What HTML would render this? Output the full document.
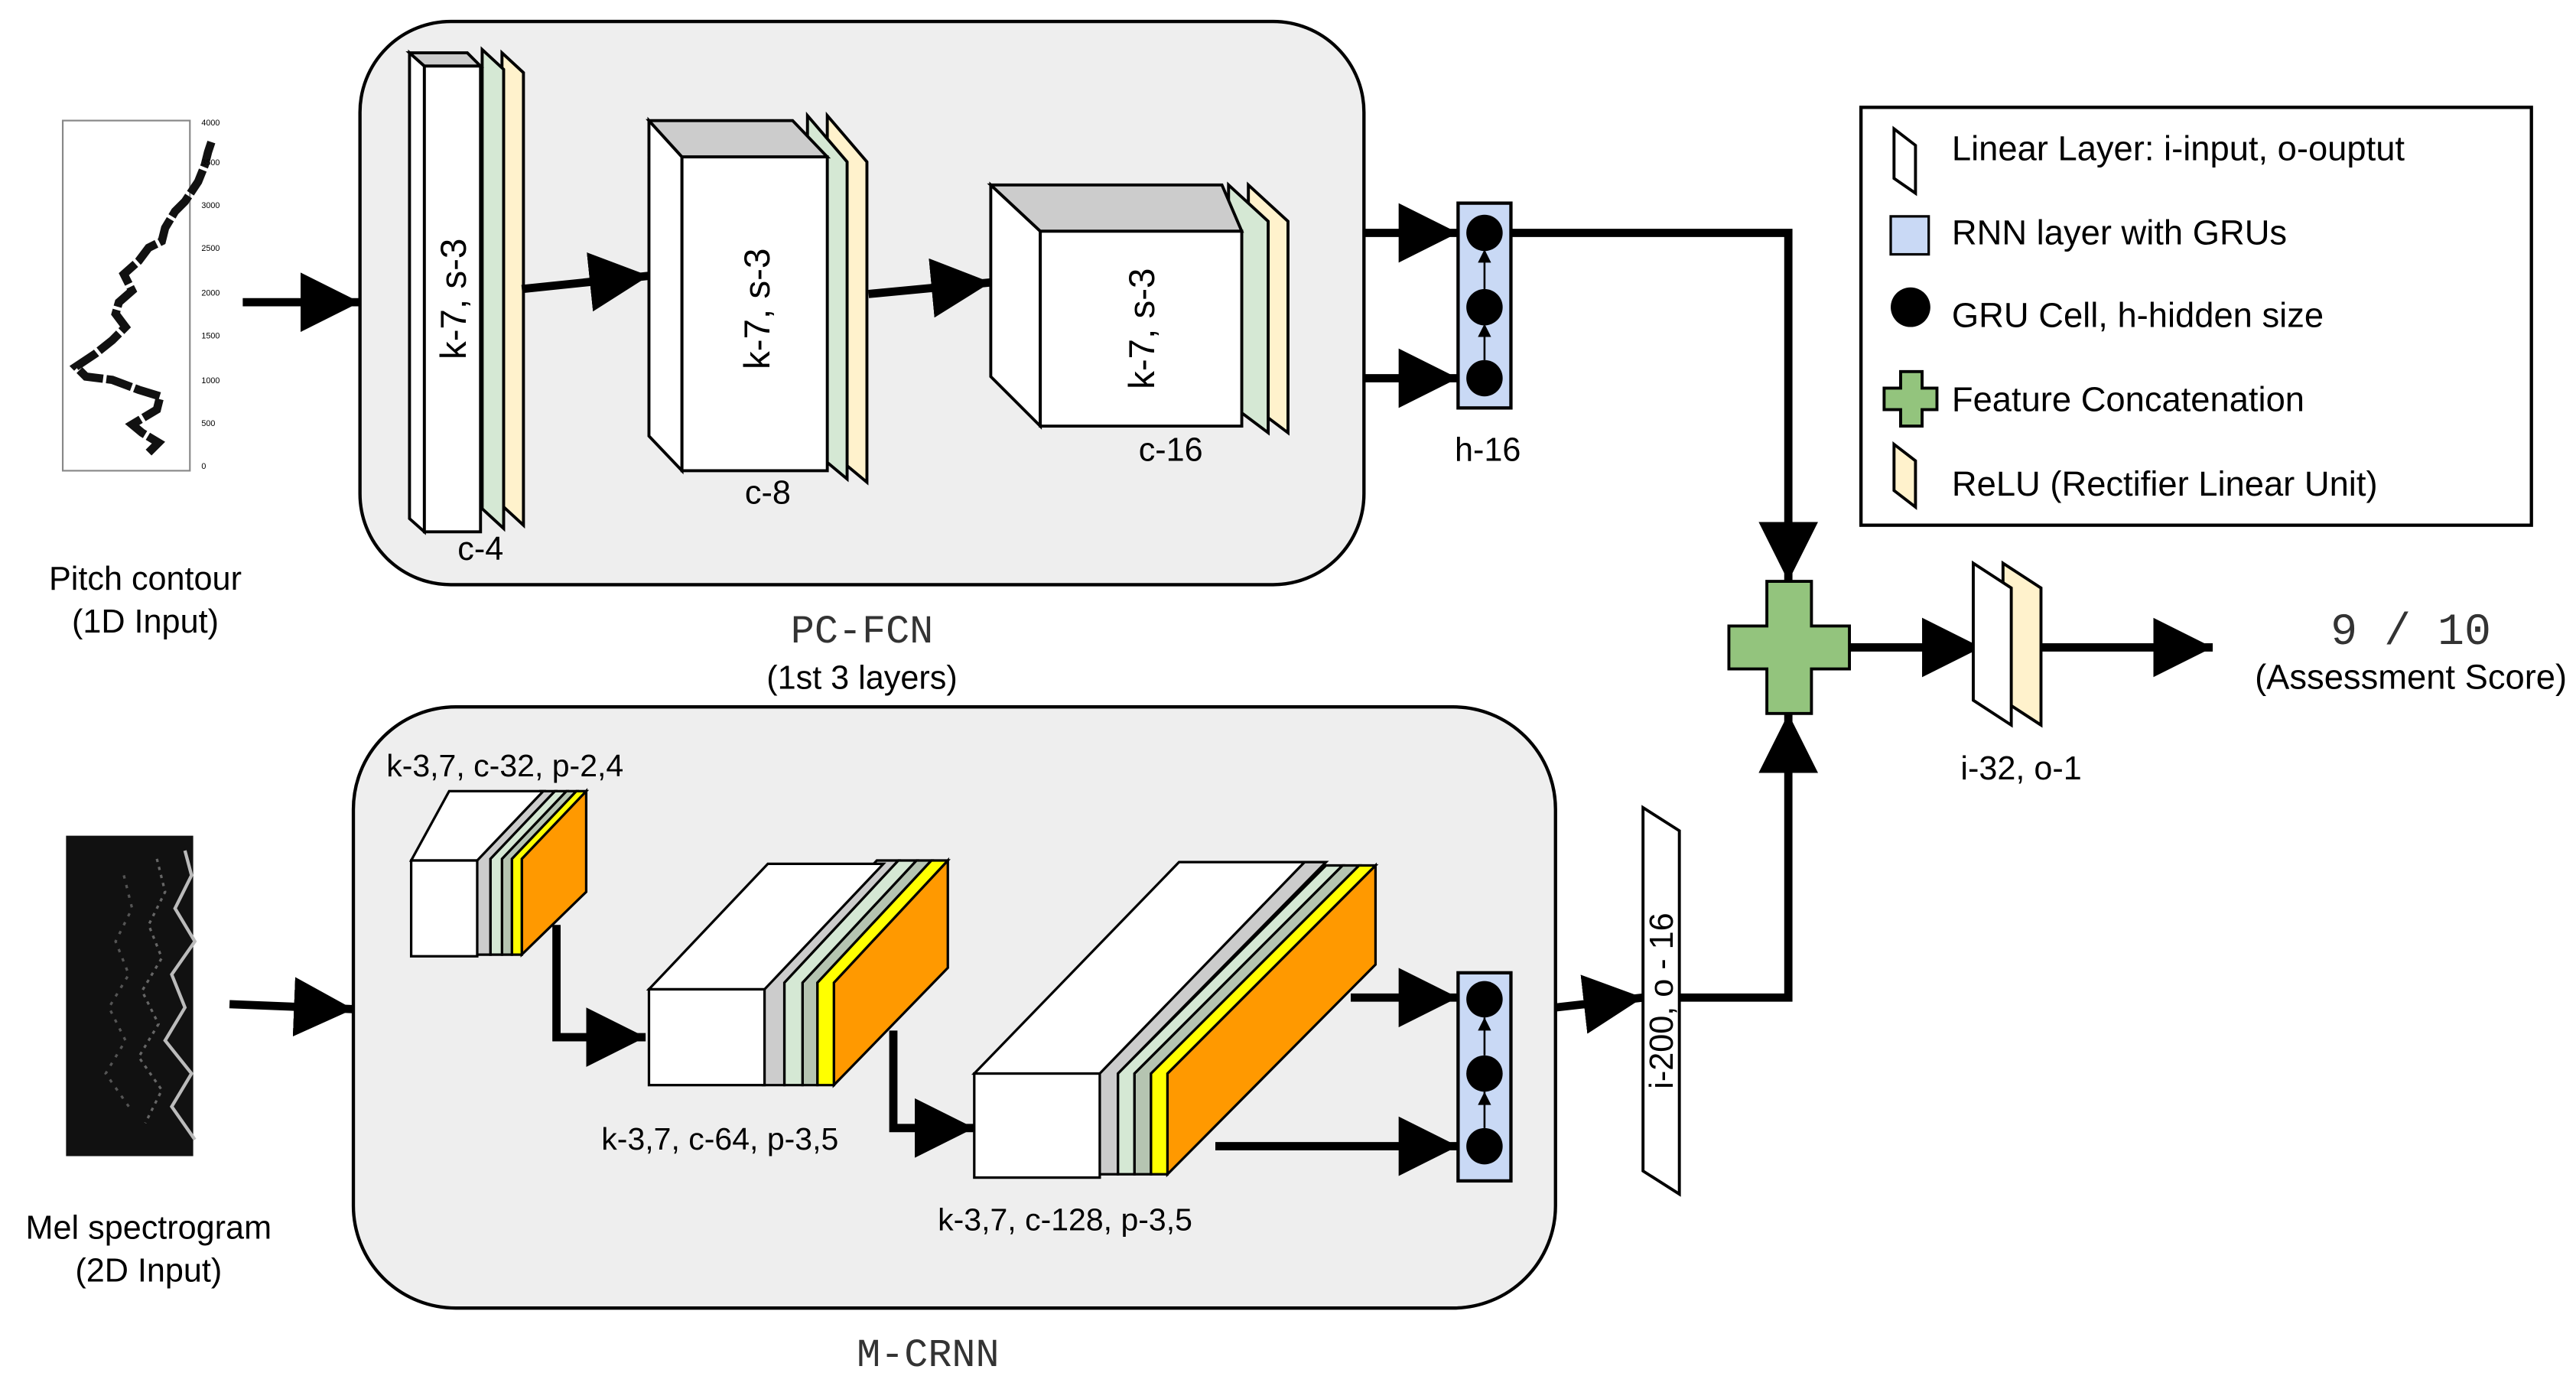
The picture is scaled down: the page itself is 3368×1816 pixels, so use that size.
<!DOCTYPE html>
<html><head><meta charset="utf-8"><style>
html,body{margin:0;padding:0;background:#fff;}
svg{display:block;}
text{font-family:"Liberation Sans",Arial,sans-serif;fill:#000;}
.mono{font-family:"Liberation Mono","DejaVu Sans Mono",monospace;fill:#333;}
</style></head><body>
<svg width="3368" height="1816" viewBox="0 0 1560 841" preserveAspectRatio="none" xmlns="http://www.w3.org/2000/svg">
<defs>
<marker id="ah" markerUnits="userSpaceOnUse" markerWidth="38" markerHeight="36" refX="36" refY="18" orient="auto">
<path d="M0,0 L36,18 L0,36 z" fill="#000"/></marker>
</defs>

<rect x="218" y="13" width="608" height="341" rx="55" fill="#eeeeee" stroke="#000" stroke-width="2"/>
<rect x="214" y="428" width="728" height="364" rx="62" fill="#eeeeee" stroke="#000" stroke-width="2"/>

<!-- pitch contour -->
<rect x="38" y="73" width="77" height="212" fill="#fff" stroke="#888" stroke-width="1"/>
<polyline points="90,274 96,268 86,262 80,257 95,248 97,240 84,236 68,230 52,228 46,222 58,214 68,206 76,198 70,190 72,183 80,176 75,166 84,158 90,150 98,146 100,138 106,128 112,122 120,110 124,100 126,92 128,86" fill="none" stroke="#111" stroke-width="5" stroke-dasharray="16,2"/>
<g font-size="5" fill="#666">
<text x="122" y="284">0</text><text x="122" y="258">500</text><text x="122" y="232">1000</text><text x="122" y="205">1500</text><text x="122" y="179">2000</text><text x="122" y="152">2500</text><text x="122" y="126">3000</text><text x="122" y="100">3500</text><text x="122" y="76">4000</text>
</g>
<text x="88" y="357" font-size="20" text-anchor="middle">Pitch contour</text>
<text x="88" y="383" font-size="20" text-anchor="middle">(1D Input)</text>

<!-- mel spectrogram -->
<rect x="40" y="506" width="77" height="194" fill="#111"/>
<polyline points="112,515 116,530 106,550 118,570 104,590 112,610 100,630 116,650 104,670 118,690" fill="none" stroke="#bbb" stroke-width="2"/>
<polyline points="95,520 100,540 90,560 98,580 86,600 96,620 84,640 98,660 88,680" fill="none" stroke="#666" stroke-width="1.5" stroke-dasharray="2,3"/>
<polyline points="75,530 80,550 70,570 78,590 66,610 76,630 64,650 78,670" fill="none" stroke="#555" stroke-width="1.5" stroke-dasharray="2,4"/>
<text x="90" y="750" font-size="20" text-anchor="middle">Mel spectrogram</text>
<text x="90" y="776" font-size="20" text-anchor="middle">(2D Input)</text>

<line x1="147" y1="183" x2="218" y2="183" stroke="#000" stroke-width="5" marker-end="url(#ah)"/>
<line x1="139" y1="608" x2="214" y2="611" stroke="#000" stroke-width="5" marker-end="url(#ah)"/>

<!-- PC-FCN layer 1 -->
<g stroke="#000" stroke-width="1.8">
<polygon points="304,32 317,44 317,318 304,306" fill="#fff2cc"/>
<polygon points="292,30 305,42 305,320 292,308" fill="#d5e8d4"/>
<polygon points="248,32 257,40 257,322 248,314" fill="#fff"/>
<polygon points="248,32 283,32 291,40 257,40" fill="#cccccc"/>
<rect x="257" y="40" width="34" height="282" fill="#fff"/>
</g>
<text transform="translate(282,181) rotate(-90)" font-size="22" text-anchor="middle">k-7, s-3</text>
<text x="291" y="339" font-size="20" text-anchor="middle">c-4</text>

<!-- layer 2 -->
<g stroke="#000" stroke-width="1.8">
<polygon points="501,70 525,98 525,292 501,272" fill="#fff2cc"/>
<polygon points="489,70 513,98 513,290 489,270" fill="#d5e8d4"/>
<polygon points="393,73 413,95 413,285 393,264" fill="#fff"/>
<polygon points="393,73 480,73 501,95 413,95" fill="#cccccc"/>
<rect x="413" y="95" width="88" height="190" fill="#fff"/>
</g>
<text transform="translate(466,187) rotate(-90)" font-size="22" text-anchor="middle">k-7, s-3</text>
<text x="465" y="305" font-size="20" text-anchor="middle">c-8</text>

<!-- layer 3 -->
<g stroke="#000" stroke-width="1.8">
<polygon points="756,112 780,134 780,262 756,244" fill="#fff2cc"/>
<polygon points="744,112 768,134 768,262 744,244" fill="#d5e8d4"/>
<polygon points="600,112 630,140 630,258 600,228" fill="#fff"/>
<polygon points="600,112 740,112 752,140 630,140" fill="#cccccc"/>
<rect x="630" y="140" width="122" height="118" fill="#fff"/>
</g>
<text transform="translate(699,199) rotate(-90)" font-size="22" text-anchor="middle">k-7, s-3</text>
<text x="709" y="279" font-size="20" text-anchor="middle">c-16</text>

<line x1="316" y1="175" x2="393" y2="167" stroke="#000" stroke-width="5" marker-end="url(#ah)"/>
<line x1="526" y1="178" x2="600" y2="171" stroke="#000" stroke-width="5" marker-end="url(#ah)"/>

<!-- RNN 1 -->
<line x1="826" y1="141" x2="883" y2="141" stroke="#000" stroke-width="5" marker-end="url(#ah)"/>
<line x1="826" y1="229" x2="883" y2="229" stroke="#000" stroke-width="5" marker-end="url(#ah)"/>
<rect x="883" y="123" width="32" height="124" fill="#c9d9f5" stroke="#000" stroke-width="2"/>
<line x1="899" y1="218" x2="899" y2="197" stroke="#000" stroke-width="1.2"/>
<line x1="899" y1="175" x2="899" y2="152" stroke="#000" stroke-width="1.2"/>
<path d="M895,204 L899,196 L903,204 z M895,159 L899,151 L903,159 z" fill="#000"/>
<circle cx="899" cy="141" r="11" fill="#000"/>
<circle cx="899" cy="186" r="11" fill="#000"/>
<circle cx="899" cy="229" r="11" fill="#000"/>
<text x="901" y="279" font-size="20" text-anchor="middle">h-16</text>

<polyline points="915,141 1083,141 1083,352" fill="none" stroke="#000" stroke-width="5" marker-end="url(#ah)"/>

<text x="522" y="389" font-size="24" class="mono" text-anchor="middle">PC-FCN</text>
<text x="522" y="417" font-size="20" text-anchor="middle">(1st 3 layers)</text>

<!-- M-CRNN block 1 -->
<g stroke="#000" stroke-width="1.5">
<polygon points="316,578 316,520 355,479 355,540" fill="#ff9900"/>
<polygon points="310,578 310,520 349,479 355,479 316,520 316,578" fill="#ffff00"/>
<polygon points="304,578 304,520 343,479 349,479 310,520 310,578" fill="#b5c4b1"/>
<polygon points="297,578 297,520 336,479 343,479 304,520 304,578" fill="#d5e8d4"/>
<polygon points="288,578 288,520 327,479 336,479 297,520 297,578" fill="#cccccc"/>
<polygon points="249,521 289,521 329,479 272,479" fill="#fff"/>
<rect x="249" y="521" width="40" height="58" fill="#fff"/>
</g>
<text x="234" y="470" font-size="19">k-3,7, c-32, p-2,4</text>

<!-- block 2 -->
<g stroke="#000" stroke-width="1.5">
<polygon points="505,657 505,595 574,521 574,586" fill="#ff9900"/>
<polygon points="495,657 495,595 564,521 574,521 505,595 505,657" fill="#ffff00"/>
<polygon points="486,657 486,595 555,521 564,521 495,595 495,657" fill="#b5c4b1"/>
<polygon points="475,657 475,595 544,521 555,521 486,595 486,657" fill="#d5e8d4"/>
<polygon points="462,657 462,595 531,521 544,521 475,595 475,657" fill="#cccccc"/>
<polygon points="393,599 463,599 535,523 465,523" fill="#fff"/>
<rect x="393" y="599" width="70" height="58" fill="#fff"/>
</g>
<text x="436" y="696" font-size="19" text-anchor="middle">k-3,7, c-64, p-3,5</text>

<!-- block 3 -->
<g stroke="#000" stroke-width="1.5">
<polygon points="707,711 707,650 833,524 833,584" fill="#ff9900"/>
<polygon points="697,711 697,650 823,524 833,524 707,650 707,711" fill="#ffff00"/>
<polygon points="687,711 687,650 813,524 823,524 697,650 697,711" fill="#b5c4b1"/>
<polygon points="677,711 677,650 803,524 813,524 687,650 687,711" fill="#d5e8d4"/>
<polygon points="664,711 664,650 790,522 803,522 677,650 677,711" fill="#cccccc"/>
<polygon points="590,650 666,650 790,522 714,522" fill="#fff"/>
<rect x="590" y="650" width="76" height="63" fill="#fff"/>
</g>
<text x="645" y="745" font-size="19" text-anchor="middle">k-3,7, c-128, p-3,5</text>

<polyline points="337,560 337,628 391,628" fill="none" stroke="#000" stroke-width="5" marker-end="url(#ah)"/>
<polyline points="541,624 541,683 590,683" fill="none" stroke="#000" stroke-width="5" marker-end="url(#ah)"/>

<!-- RNN 2 -->
<line x1="818" y1="604" x2="883" y2="604" stroke="#000" stroke-width="5" marker-end="url(#ah)"/>
<line x1="736" y1="694" x2="883" y2="694" stroke="#000" stroke-width="5" marker-end="url(#ah)"/>
<rect x="883" y="589" width="32" height="126" fill="#c9d9f5" stroke="#000" stroke-width="2"/>
<line x1="899" y1="683" x2="899" y2="661" stroke="#000" stroke-width="1.2"/>
<line x1="899" y1="639" x2="899" y2="616" stroke="#000" stroke-width="1.2"/>
<path d="M895,669 L899,661 L903,669 z M895,624 L899,616 L903,624 z" fill="#000"/>
<circle cx="899" cy="605" r="11" fill="#000"/>
<circle cx="899" cy="650" r="11" fill="#000"/>
<circle cx="899" cy="694" r="11" fill="#000"/>

<line x1="942" y1="610" x2="995" y2="604" stroke="#000" stroke-width="5" marker-end="url(#ah)"/>
<polygon points="995,489 1017,503 1017,723 995,709" fill="#fff" stroke="#000" stroke-width="1.8"/>
<text transform="translate(1013,606) rotate(-90)" font-size="20" text-anchor="middle">i-200, o - 16</text>
<polyline points="1017,604 1083,604 1083,432" fill="none" stroke="#000" stroke-width="5" marker-end="url(#ah)"/>

<text x="562" y="827" font-size="24" class="mono" text-anchor="middle">M-CRNN</text>

<!-- concat -->
<path d="M1070,352 H1097 V379 H1120 V405 H1097 V432 H1070 V405 H1047 V379 H1070 Z" fill="#93c47d" stroke="#000" stroke-width="1.8"/>
<line x1="1120" y1="392" x2="1200" y2="392" stroke="#000" stroke-width="5" marker-end="url(#ah)"/>
<polygon points="1213,341 1236,356 1236,439 1213,424" fill="#fff2cc" stroke="#000" stroke-width="1.8"/>
<polygon points="1195,341 1218,356 1218,439 1195,424" fill="#fff" stroke="#000" stroke-width="1.8"/>
<text x="1224" y="472" font-size="20" text-anchor="middle">i-32, o-1</text>
<line x1="1236" y1="392" x2="1340" y2="392" stroke="#000" stroke-width="5" marker-end="url(#ah)"/>
<text x="1460" y="390" font-size="27" class="mono" text-anchor="middle">9 / 10</text>
<text x="1460" y="417" font-size="21" text-anchor="middle">(Assessment Score)</text>

<!-- legend -->
<rect x="1127" y="65" width="406" height="253" fill="#fff" stroke="#000" stroke-width="2"/>
<polygon points="1147,78 1160,88 1160,117 1147,108" fill="#fff" stroke="#000" stroke-width="1.8"/>
<text x="1182" y="97" font-size="21">Linear Layer: i-input, o-ouptut</text>
<rect x="1145" y="131" width="23" height="23" fill="#c9d9f5" stroke="#000" stroke-width="1.5"/>
<text x="1182" y="148" font-size="21">RNN layer with GRUs</text>
<circle cx="1157" cy="186" r="12" fill="#000"/>
<text x="1182" y="198" font-size="21">GRU Cell, h-hidden size</text>
<path d="M1151,225 H1164 V235 H1173 V248 H1164 V258 H1151 V248 H1141 V235 H1151 Z" fill="#93c47d" stroke="#000" stroke-width="1.8"/>
<text x="1182" y="249" font-size="21">Feature Concatenation</text>
<polygon points="1147,269 1160,279 1160,307 1147,297" fill="#fff2cc" stroke="#000" stroke-width="1.8"/>
<text x="1182" y="300" font-size="21">ReLU (Rectifier Linear Unit)</text>
</svg>
</body></html>
